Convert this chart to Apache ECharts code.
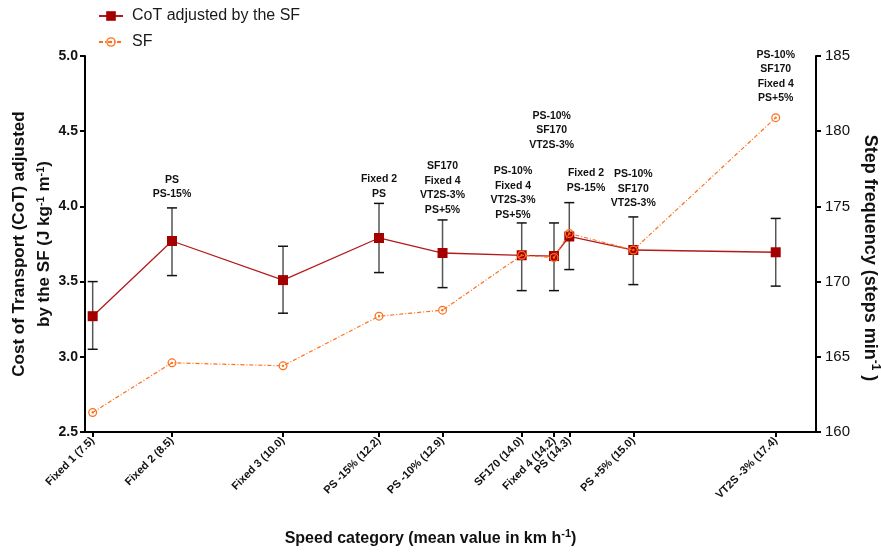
<!DOCTYPE html>
<html>
<head>
<meta charset="utf-8">
<script src="https://cdn.jsdelivr.net/npm/echarts@6/dist/echarts.min.js"></script>
<style>
  html, body { margin: 0; padding: 0; background: #fff; }
  #chart { width: 881px; height: 552px; }
</style>
</head>
<body>
<div id="chart"></div>
<script>
// Speed categories (mean speed in km/h) and their position along the horizontal scale
const categories = ['Fixed 1 (7.5)', 'Fixed 2 (8.5)', 'Fixed 3 (10.0)', 'PS -15% (12.2)', 'PS -10% (12.9)',
  'SF170 (14.0)', 'Fixed 4 (14.2)', 'PS (14.3)', 'PS +5% (15.0)', 'VT2S -3% (17.4)'];
const slotPos = [1.05, 11.90, 27.09, 40.22, 48.91, 59.74, 64.16, 66.25, 75.01, 94.49];

// Cost of transport adjusted by step frequency (mean, lower and upper error limits)
const cotMean = [3.27, 3.77, 3.51, 3.79, 3.69, 3.675, 3.67, 3.80, 3.71, 3.695];
const cotLow  = [3.05, 3.54, 3.29, 3.56, 3.46, 3.44, 3.44, 3.58, 3.48, 3.47];
const cotHigh = [3.50, 3.99, 3.735, 4.02, 3.91, 3.89, 3.89, 4.025, 3.93, 3.92];

// Step frequency (steps/min)
const sfMean = [161.3, 164.6, 164.4, 167.7, 168.1, 171.75, 171.6, 173.2, 172.1, 180.9];

// Significant-difference annotations (anchor position on the CoT scale)
const noteX = [11.90, 40.22, 48.91, 58.55, 63.84, 68.54, 75.01, 94.49];
const noteY = [4.033, 4.036, 3.928, 3.897, 4.362, 4.076, 3.972, 4.670];
const noteText = [
  'PS\nPS-15%',
  'Fixed 2\nPS',
  'SF170\nFixed 4\nVT2S-3%\nPS+5%',
  'PS-10%\nFixed 4\nVT2S-3%\nPS+5%',
  'PS-10%\nSF170\nVT2S-3%',
  'Fixed 2\nPS-15%',
  'PS-10%\nSF170\nVT2S-3%',
  'PS-10%\nSF170\nFixed 4\nPS+5%'
];

// Left and right axis ranges
const cotAxis = { min: 2.5, max: 5.0, step: 0.5 };
const sfAxis = { min: 160, max: 185, step: 5 };

const FONT = '"Liberation Sans", Arial, Helvetica, sans-serif';
const RED = '#a50000';
const RED_LINE = '#b31b1b';
const ORANGE = '#ff6f1a';

const ringSymbol = 'path://M0,-10A10,10 0 1,1 0,10A10,10 0 1,1 0,-10Z' +
  'M0,-7.2A7.2,7.2 0 1,0 0,7.2A7.2,7.2 0 1,0 0,-7.2Z' +
  'M0,-2.6A2.6,2.6 0 1,1 0,2.6A2.6,2.6 0 1,1 0,-2.6Z';

const labelOf = {};
slotPos.forEach((p, i) => { labelOf[p] = categories[i]; });

const chart = echarts.init(document.getElementById('chart'), null, { renderer: 'canvas' });

const supStyle = { fontSize: 11, fontWeight: 'bold', fontFamily: FONT, color: '#111', verticalAlign: 'bottom', padding: [0, 0, 11, 0] };

chart.setOption({
  animation: false,
  backgroundColor: '#fff',
  textStyle: { fontFamily: FONT },
  legend: {
    orient: 'vertical',
    left: 98,
    top: 8,
    padding: 0,
    itemWidth: 24,
    itemHeight: 12,
    itemGap: 10,
    textStyle: { fontSize: 16, color: '#1a1a1a', fontFamily: FONT, lineHeight: 16, padding: [0, 0, 0, 4] },
    data: ['CoT adjusted by the SF', 'SF']
  },
  grid: { left: 85, right: 65, top: 56, bottom: 120, containLabel: false, outerBoundsMode: 'none' },
  xAxis: {
    type: 'value',
    min: 0,
    max: 100,
    name: 'Speed category (mean value in km h{sup|-1})',
    nameLocation: 'middle',
    nameGap: 96,
    nameMoveOverlap: false,
    nameTextStyle: {
      fontSize: 16, fontWeight: 'bold', color: '#111', fontFamily: FONT,
      padding: [0, 40, 0, 0],
      rich: { sup: supStyle }
    },
    splitLine: { show: false },
    axisLine: { show: true, onZero: false, lineStyle: { color: '#000', width: 2 } },
    axisTick: { show: true, length: 5, lineStyle: { color: '#000', width: 2 }, customValues: slotPos },
    axisLabel: {
      show: true,
      customValues: slotPos,
      rotate: 45,
      margin: 7,
      fontSize: 11,
      fontWeight: 'bold',
      color: '#111',
      fontFamily: FONT,
      formatter: (v) => labelOf[v] || ''
    }
  },
  yAxis: [
    {
      type: 'value',
      position: 'left',
      min: cotAxis.min,
      max: cotAxis.max,
      interval: cotAxis.step,
      name: 'Cost of Transport (CoT) adjusted\nby the SF (J kg{sup|-1} m{sup|-1})',
      nameLocation: 'middle',
      nameGap: 28,
      nameMoveOverlap: false,
      nameTextStyle: {
        fontSize: 17, fontWeight: 'bold', color: '#111', fontFamily: FONT, lineHeight: 25,
        rich: { sup: supStyle }
      },
      splitLine: { show: false },
      axisLine: { show: true, lineStyle: { color: '#000', width: 2 } },
      axisTick: { show: true, length: 5, lineStyle: { color: '#000', width: 2 } },
      axisLabel: {
        fontSize: 14, fontWeight: 'bold', color: '#111', fontFamily: FONT, margin: 7,
        formatter: (v) => v.toFixed(1)
      }
    },
    {
      type: 'value',
      position: 'right',
      min: sfAxis.min,
      max: sfAxis.max,
      interval: sfAxis.step,
      name: 'Step frequency (steps min{sup|-1} )',
      nameLocation: 'middle',
      nameRotate: -90,
      nameGap: 42,
      nameMoveOverlap: false,
      nameTextStyle: {
        fontSize: 18, fontWeight: 'bold', color: '#111', fontFamily: FONT,
        padding: [0, 0, 0, 28],
        rich: { sup: Object.assign({}, supStyle, { fontSize: 12 }) }
      },
      splitLine: { show: false },
      axisLine: { show: true, lineStyle: { color: '#000', width: 2 } },
      axisTick: { show: true, length: 5, lineStyle: { color: '#000', width: 2 } },
      axisLabel: { fontSize: 15, color: '#111', fontFamily: FONT, margin: 9 }
    }
  ],
  series: [
    {
      name: 'error',
      type: 'custom',
      yAxisIndex: 0,
      z: 2,
      data: slotPos.map((x, i) => [x, cotLow[i], cotHigh[i]]),
      encode: { x: 0, y: [1, 2] },
      renderItem: (params, api) => {
        const x = api.value(0);
        const lo = api.coord([x, api.value(1)]);
        const hi = api.coord([x, api.value(2)]);
        const w = 5;
        return {
          type: 'group',
          children: [
            { type: 'line', shape: { x1: lo[0], y1: lo[1], x2: hi[0], y2: hi[1] }, style: { stroke: '#555', lineWidth: 1.5 } },
            { type: 'line', shape: { x1: hi[0] - w, y1: hi[1], x2: hi[0] + w, y2: hi[1] }, style: { stroke: '#111', lineWidth: 1.5 } },
            { type: 'line', shape: { x1: lo[0] - w, y1: lo[1], x2: lo[0] + w, y2: lo[1] }, style: { stroke: '#111', lineWidth: 1.5 } }
          ]
        };
      }
    },
    {
      name: 'CoT adjusted by the SF',
      type: 'line',
      yAxisIndex: 0,
      z: 3,
      data: slotPos.map((x, i) => [x, cotMean[i]]),
      symbol: 'rect',
      symbolSize: 10,
      lineStyle: { color: RED_LINE, width: 1.3 },
      itemStyle: { color: RED },
      emphasis: { disabled: true }
    },
    {
      name: 'SF',
      type: 'line',
      yAxisIndex: 1,
      z: 4,
      data: slotPos.map((x, i) => [x, sfMean[i]]),
      symbol: ringSymbol,
      symbolSize: 9,
      lineStyle: { color: ORANGE, width: 1.2, type: [4, 2, 1, 2] },
      itemStyle: { color: ORANGE },
      emphasis: { disabled: true }
    },
    {
      name: 'notes',
      type: 'scatter',
      yAxisIndex: 0,
      z: 5,
      symbolSize: 0,
      silent: true,
      itemStyle: { opacity: 1 },
      data: noteX.map((x, i) => ({ value: [x, noteY[i]], label: { formatter: noteText[i] } })),
      label: {
        show: true,
        position: 'top',
        distance: 0,
        fontSize: 10.5,
        fontWeight: 'bold',
        lineHeight: 14.5,
        color: '#111',
        opacity: 1,
        fontFamily: FONT,
        align: 'center'
      }
    }
  ]
});
</script>
</body>
</html>
